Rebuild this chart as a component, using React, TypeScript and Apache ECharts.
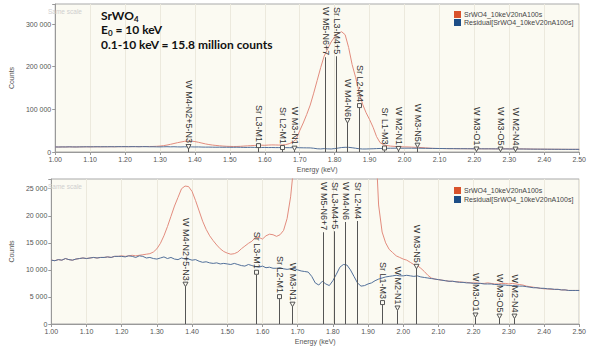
import React, { useEffect, useRef } from 'react';
import * as echarts from 'echarts';

// Series names
const SPECTRUM_NAME = 'SrWO4_10keV20nA100s';
const RESIDUAL_NAME = 'Residual[SrWO4_10keV20nA100s]';

// Channel calibration (keV)
const channelStart = 1.0;
const channelWidth = 0.01;

// Measured spectrum, counts per channel, 1.00 … 2.50 keV
const spectrumCounts: number[] = [
  11800, 11700, 11900, 11800, 12100, 11900, 11800, 12000, 12100, 12200,
  12100, 12200, 12300, 12200, 12300, 12300, 12400, 12300, 12500, 12500,
  12600, 12500, 12600, 12700, 12600, 12700, 12800, 12900, 13000, 13300,
  13900, 14900, 16300, 18000, 19900, 21800, 23400, 25000, 25500, 25400,
  24500, 22800, 20900, 19000, 17500, 16300, 15400, 14600, 13900, 13400,
  13100, 12900, 13000, 13300, 13900, 14400, 14900, 15300, 16000, 16000,
  15700, 16300, 16600, 16500, 16200, 16500, 17300, 19500, 23500, 30000,
  50000, 68000, 88000, 110000, 138000, 168000, 198000, 225000, 242000, 258000,
  270000, 278000, 282000, 275000, 245000, 205000, 175000, 140000, 112000, 92000,
  76000, 58000, 36000, 22000, 17000, 15000, 13800, 13200, 12600, 12300,
  12000, 11800, 11400, 11000, 10800, 10300, 9700, 9000, 8500, 8300,
  8200, 8100, 8000, 7900, 7900, 7800, 7800, 7700, 7700, 7600,
  7600, 7600, 7500, 7500, 7600, 7500, 7400, 7400, 7500, 7500,
  7400, 7500, 7400, 7300, 7200, 7000, 6900, 6800, 6700, 6600,
  6500, 6500, 6400, 6400, 6400, 6300, 6300, 6200, 6200, 6200,
  6200,
];

// Residual after peak fitting, 1.00 … 2.50 keV
const residualCounts: number[] = [
  11800, 11700, 11900, 11800, 12100, 11900, 11800, 12000, 12100, 12200,
  12100, 12200, 12300, 12200, 12300, 12300, 12400, 12300, 12500, 12500,
  12500, 12400, 12600, 12500, 12300, 12600, 12500, 12200, 12300, 12100,
  12000, 12200, 12400, 12100, 12300, 12000, 11900, 12200, 12000, 12000,
  11800, 11900, 11600, 11400, 11500, 11300, 11200, 11300, 11100, 11200,
  11100, 11000, 11200, 11000, 10800, 10700, 11000, 10800, 10600, 10500,
  10700, 10400, 10500, 10300, 10300, 10400, 10200, 10100, 10200, 10300,
  10000, 9800, 9700, 9600, 8800, 7600, 7200, 7900, 7400, 7100,
  8000, 9200, 10500, 11000, 10900, 10000, 8800, 7600, 7000, 7100,
  7400, 7600, 8000, 8300, 8500, 8700, 8800, 8900, 9000, 8900,
  8900, 9000, 8900, 8800, 8900, 8700, 8600, 8500, 8400, 8300,
  8200, 8100, 8000, 7900, 7900, 7800, 7700, 7700, 7600, 7600,
  7500, 7500, 7500, 7400, 7400, 7400, 7300, 7300, 7200, 7200,
  7100, 7100, 7100, 7000, 7000, 6900, 6800, 6700, 6700, 6600,
  6600, 6500, 6500, 6400, 6400, 6300, 6300, 6200, 6200, 6200,
  6200,
];

// Characteristic X-ray line markers
const lineNames = [
  'W M4-N2+5-N3', 'Sr L3-M1', 'Sr L2-M1', 'W M3-N1', 'W M5-N6+7', 'Sr L3-M4+5',
  'W M4-N6', 'Sr L2-M4', 'Sr L1-M3', 'W M2-N1', 'W M3-N5', 'W M3-O1', 'W M3-O5', 'W M2-N4',
];
const lineEnergies = [
  1.381, 1.581, 1.648, 1.684, 1.773, 1.804,
  1.834, 1.869, 1.940, 1.981, 2.037, 2.204, 2.272, 2.316,
];
const lineHeights = [
  6900, 9100, 4600, 3200, 227000, 246000,
  68000, 103000, 3500, 2500, 10200, 1200, 1000, 1000,
];
const lineElements = ['W', 'Sr', 'Sr', 'W', 'W', 'Sr', 'W', 'Sr', 'Sr', 'W', 'W', 'W', 'W', 'W'];

const FONT = '"Liberation Sans", Arial, sans-serif';
const TITLE_FONT = 'Lato, "Open Sans", sans-serif';
const PLOT_BG = '#fbfaf2';
const LABEL_SIZE = 9;

let measureCtx: CanvasRenderingContext2D | null = null;
function textWidth(text: string, font: string): number {
  if (!measureCtx) measureCtx = document.createElement('canvas').getContext('2d');
  measureCtx!.font = font;
  return measureCtx!.measureText(text).width;
}

const formatCounts = (v: number) => String(Math.round(v)).replace(/\B(?=(\d{3})+(?!\d))/g, ' ');

const panels = [
  { top: 4, height: 148, yMax: 347000, yStep: 100000 },
  { top: 179, height: 147, yMax: 26800, yStep: 5000 },
];

function renderLineMarker(params: any, api: any) {
  const idx = api.value(2);
  const e = api.value(0);
  const h = api.value(1);
  const cs = params.coordSys;
  const base = api.coord([e, 0]);
  const pt = api.coord([e, h]);
  const x = Math.round(base[0]) + 0.5;
  const name = lineNames[idx];
  const len = textWidth(name, `${LABEL_SIZE}px "Liberation Sans"`);
  const limit = cs.y + 3;
  const children: any[] = [];
  const fits = pt[1] - 6 - len >= limit;
  if (fits) {
    const my = pt[1];
    children.push({
      type: 'line',
      shape: { x1: x, y1: base[1], x2: x, y2: my },
      style: { stroke: '#555', lineWidth: 1 },
    });
    if (lineElements[idx] === 'W') {
      children.push({
        type: 'polygon',
        shape: { points: [[x - 2.5, my - 4.5], [x + 2.5, my - 4.5], [x, my]] },
        style: { fill: PLOT_BG, stroke: '#444', lineWidth: 0.9 },
      });
    } else {
      children.push({
        type: 'rect',
        shape: { x: x - 2, y: my - 4.5, width: 4, height: 4 },
        style: { fill: PLOT_BG, stroke: '#444', lineWidth: 0.9 },
      });
    }
    children.push({
      type: 'text',
      x,
      y: my - 6,
      rotation: -Math.PI / 2,
      style: {
        text: name, fontSize: LABEL_SIZE, fontFamily: FONT, fill: '#333',
        align: 'right', verticalAlign: 'middle',
      },
    });
  } else {
    children.push({
      type: 'line',
      shape: { x1: x, y1: base[1], x2: x, y2: limit + len + 2 },
      style: { stroke: '#555', lineWidth: 1 },
    });
    children.push({
      type: 'text',
      x,
      y: limit,
      rotation: -Math.PI / 2,
      style: {
        text: name, fontSize: LABEL_SIZE, fontFamily: FONT, fill: '#333',
        align: 'left', verticalAlign: 'middle',
      },
    });
  }
  return { type: 'group', children };
}

function buildOption() {
  const spectrumData = spectrumCounts.map((c, i) => [channelStart + i * channelWidth, c]);
  const residualData = residualCounts.map((c, i) => [channelStart + i * channelWidth, c]);
  const markerData = lineEnergies.map((e, i) => [e, lineHeights[i], i]);

  const axisText = { fontSize: 7, color: '#555', fontFamily: FONT };

  const grid = panels.map((p) => ({
    left: 45, right: 9, top: p.top, height: p.height,
    show: true, backgroundColor: PLOT_BG, borderColor: '#a9a9a9', borderWidth: 1,
  }));

  const xAxis = panels.map((_, i) => ({
    type: 'value', gridIndex: i, min: 1, max: 2.5, interval: 0.1,
    name: 'Energy (keV)', nameLocation: 'middle', nameGap: 14, nameTextStyle: axisText,
    axisLine: { show: true, onZero: false, lineStyle: { color: '#999' } },
    axisTick: { show: true, length: 3, lineStyle: { color: '#999' } },
    axisLabel: { ...axisText, margin: 4, formatter: (v: number) => v.toFixed(2) },
    splitLine: { show: true, lineStyle: { color: '#ece9dd', width: 1 } },
  }));

  const yAxis = panels.map((p, i) => ({
    type: 'value', gridIndex: i, min: 0, max: p.yMax, interval: p.yStep,
    name: 'Counts', nameLocation: 'middle', nameGap: 31, nameTextStyle: axisText,
    axisLine: { show: true, lineStyle: { color: '#999' } },
    axisTick: { show: true, length: 3, lineStyle: { color: '#999' } },
    axisLabel: {
      ...axisText, margin: 4,
      formatter: (v: number) => (Math.abs(v % p.yStep) < 1e-6 ? formatCounts(v) : ''),
    },
    splitLine: { show: false },
  }));

  const series: any[] = [];
  panels.forEach((_, i) => {
    series.push({
      type: 'line', name: SPECTRUM_NAME, xAxisIndex: i, yAxisIndex: i,
      data: spectrumData, symbol: 'none', showSymbol: false,
      lineStyle: { color: '#e28c7e', width: 1 }, itemStyle: { color: '#d9532c' }, z: 2,
    });
    series.push({
      type: 'line', name: RESIDUAL_NAME, xAxisIndex: i, yAxisIndex: i,
      data: residualData, symbol: 'none', showSymbol: false,
      lineStyle: { color: '#52709a', width: 1 }, itemStyle: { color: '#1d4d86' }, z: 2,
    });
    series.push({
      type: 'custom', xAxisIndex: i, yAxisIndex: i, data: markerData,
      encode: { x: 0, y: 1 }, renderItem: renderLineMarker, silent: true, z: 3,
    });
  });

  const legend = [
    { top: 11, itemGap: 1 },
    { top: 187, itemGap: 2 },
  ].map((l) => ({
    left: 454, top: l.top, orient: 'vertical', icon: 'rect',
    itemWidth: 7, itemHeight: 7, itemGap: l.itemGap, padding: 0,
    selectedMode: false,
    textStyle: { fontSize: 7, color: '#444', fontFamily: FONT, padding: [0, 0, 0, -2] },
    data: [SPECTRUM_NAME, RESIDUAL_NAME],
  }));

  // Title block; subscripts are bottom-aligned rich-text tokens
  const main = { fontSize: 12, fontWeight: 'bold', fontFamily: TITLE_FONT, color: '#111', lineHeight: 14.5 };
  const sub = { fontSize: 8, fontWeight: 'bold', fontFamily: TITLE_FONT, color: '#111', lineHeight: 8, verticalAlign: 'bottom' };

  const graphic: any[] = [
    { type: 'text', x: 48, y: 11, z: 10, style: { text: 'Same scale', fontSize: 6.5, fontFamily: FONT, fill: '#cfcfcf', verticalAlign: 'middle' } },
    { type: 'text', x: 48, y: 186, z: 10, style: { text: 'Same scale', fontSize: 6.5, fontFamily: FONT, fill: '#cfcfcf', verticalAlign: 'middle' } },
    {
      type: 'text', x: 101, y: 8, z: 10,
      style: {
        text: '{m|SrWO}{s|4}\n{m|E}{s|0}{m| = 10 keV}\n{m|0.1-10 keV = 15.8 million counts}',
        rich: { m: main, s: sub },
        fill: '#111',
      },
    },
  ];

  return {
    animation: false,
    backgroundColor: '#ffffff',
    grid, xAxis, yAxis, series, legend, graphic,
  };
}

export default function App() {
  const ref = useRef<HTMLDivElement>(null);
  useEffect(() => {
    if (!ref.current) return;
    const chart = echarts.init(ref.current, undefined, { renderer: 'svg' });
    chart.setOption(buildOption() as any);
    return () => chart.dispose();
  }, []);
  return (
    <div
      ref={ref}
      style={{ position: 'fixed', left: 0, top: 0, width: 589, height: 346 }}
    />
  );
}
